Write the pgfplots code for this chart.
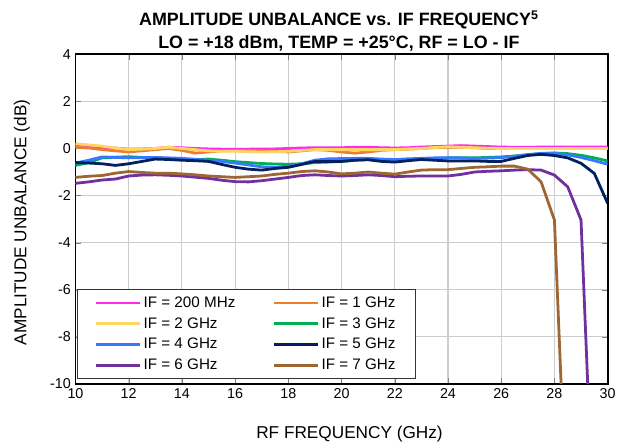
\documentclass[border=0pt]{standalone}
\usepackage{fontspec}
\setmainfont{Liberation Sans}
\usepackage{pgfplots}
\pgfplotsset{compat=1.18}

\definecolor{cMag}{RGB}{255,40,235}
\definecolor{cOrg}{RGB}{237,125,49}
\definecolor{cYel}{RGB}{255,214,100}
\definecolor{cGrn}{RGB}{0,176,80}
\definecolor{cBlu}{RGB}{55,120,255}
\definecolor{cNav}{RGB}{0,32,96}
\definecolor{cPur}{RGB}{112,48,160}
\definecolor{cBrn}{RGB}{158,102,50}

\begin{document}
\begin{tikzpicture}
\begin{axis}[at={(0pt,0pt)}, anchor=south west, scale only axis,
  width=402pt, height=249pt,
  xmin=10, xmax=30, ymin=-10, ymax=4,
  xtick={10,12,...,30}, ytick={-10,-8,...,4},
  /pgf/number format/assume math mode=true,
  ticklabel style={font=\fontsize{10.8}{13}\selectfont},
  grid=major,
  grid style={draw=gray!40, line width=0.9pt},
  axis line style={black, line width=1.3pt},
  xlabel={RF FREQUENCY (GHz)},
  ylabel={AMPLITUDE UNBALANCE (dB)},
  label style={font=\fontsize{13}{15}\selectfont},
  xlabel style={at={(axis description cs:0.515,-0.1506)}, anchor=center},
  ylabel style={at={(axis description cs:-0.1007,0.49)}, anchor=center},
  title={\textbf{AMPLITUDE UNBALANCE vs. IF FREQUENCY\textsuperscript{5}}\\\textbf{LO = +18 dBm, TEMP = +25°C, RF = LO - IF}},
  title style={at={(axis description cs:0.495,1)}, anchor=center, yshift=11.6pt,
    align=center, font=\fontsize{13.5}{17.25}\selectfont},
  legend columns=2, legend cell align=left,
  legend image code/.code={\draw[#1] (0pt,0pt) -- (33pt,0pt);},
  legend style={at={(axis description cs:0.0024,0.014)}, anchor=south west,
    draw=black!80, line width=0.8pt, fill=white,
    font=\fontsize{11.5}{13}\selectfont, inner xsep=13pt, inner ysep=3.5pt,
    row sep=2.1pt,
    /tikz/every even column/.append style={column sep=26pt}},
  every axis plot/.append style={line width=2.1pt, line join=round},
]
\addplot[cMag] coordinates {
(10,0.10)(10.5,0.08)(11,0.05)(11.5,0.02)(12,-0.03)(12.5,-0.02)(13,0.00)(13.5,0.05)
(14,0.03)(14.5,0.00)(15,-0.02)(15.5,-0.03)(16,-0.03)(16.5,-0.03)(17,-0.02)(17.5,-0.02)
(18,0.00)(18.5,0.02)(19,0.03)(19.5,0.03)(20,0.03)(20.5,0.05)(21,0.05)(21.5,0.03)
(22,0.02)(22.5,0.03)(23,0.06)(23.5,0.08)(24,0.10)(24.5,0.12)(25,0.10)(25.5,0.08)
(26,0.06)(26.5,0.05)(27,0.05)(27.5,0.06)(28,0.06)(28.5,0.06)(29,0.06)(29.5,0.06)(30,0.06)};
\addlegendentry{IF = 200 MHz}
\addplot[cOrg] coordinates {
(10,0.05)(10.5,0.02)(11,-0.05)(11.5,-0.10)(12,-0.15)(12.5,-0.10)(13,-0.05)(13.5,0.00)
(14,-0.08)(14.5,-0.20)(15,-0.15)(15.5,-0.10)(16,-0.10)(16.5,-0.08)(17,-0.10)(17.5,-0.12)
(18,-0.15)(18.5,-0.10)(19,-0.05)(19.5,-0.08)(20,-0.15)(20.5,-0.20)(21,-0.15)(21.5,-0.08)
(22,-0.05)(22.5,-0.03)(23,0.00)(23.5,0.03)(24,0.05)(24.5,0.05)(25,0.03)(25.5,0.00)
(26,0.00)(26.5,0.00)(27,0.00)(27.5,0.00)(28,0.00)(28.5,0.00)(29,0.00)(29.5,0.00)(30,0.00)};
\addlegendentry{IF = 1 GHz}
\addplot[cYel] coordinates {
(10,0.20)(10.5,0.15)(11,0.10)(11.5,0.02)(12,-0.05)(12.5,-0.03)(13,0.00)(13.5,0.05)
(14,0.00)(14.5,-0.05)(15,-0.10)(15.5,-0.12)(16,-0.12)(16.5,-0.14)(17,-0.15)(17.5,-0.14)
(18,-0.12)(18.5,-0.08)(19,-0.05)(19.5,-0.05)(20,-0.05)(20.5,-0.05)(21,-0.05)(21.5,-0.05)
(22,-0.05)(22.5,-0.02)(23,0.00)(23.5,0.04)(24,0.07)(24.5,0.05)(25,0.03)(25.5,0.01)
(26,0.00)(26.5,0.00)(27,0.00)(27.5,0.00)(28,0.00)(28.5,0.00)(29,0.00)(29.5,0.00)(30,0.00)};
\addlegendentry{IF = 2 GHz}
\addplot[cGrn] coordinates {
(10,-0.72)(10.5,-0.60)(11,-0.40)(11.5,-0.37)(12,-0.35)(12.5,-0.38)(13,-0.42)(13.5,-0.44)
(14,-0.46)(14.5,-0.48)(15,-0.45)(15.5,-0.50)(16,-0.56)(16.5,-0.60)(17,-0.64)(17.5,-0.66)
(18,-0.67)(18.5,-0.65)(19,-0.60)(19.5,-0.58)(20,-0.55)(20.5,-0.50)(21,-0.47)(21.5,-0.47)
(22,-0.48)(22.5,-0.46)(23,-0.44)(23.5,-0.42)(24,-0.40)(24.5,-0.40)(25,-0.40)(25.5,-0.38)
(26,-0.36)(26.5,-0.32)(27,-0.27)(27.5,-0.22)(28,-0.19)(28.5,-0.22)(29,-0.29)(29.5,-0.40)(30,-0.53)};
\addlegendentry{IF = 3 GHz}
\addplot[cBlu] coordinates {
(10,-0.62)(10.5,-0.50)(11,-0.36)(11.5,-0.38)(12,-0.40)(12.5,-0.39)(13,-0.38)(13.5,-0.40)
(14,-0.42)(14.5,-0.46)(15,-0.50)(15.5,-0.55)(16,-0.62)(16.5,-0.70)(17,-0.78)(17.5,-0.80)
(18,-0.75)(18.5,-0.65)(19,-0.50)(19.5,-0.44)(20,-0.43)(20.5,-0.42)(21,-0.42)(21.5,-0.45)
(22,-0.47)(22.5,-0.44)(23,-0.42)(23.5,-0.40)(24,-0.39)(24.5,-0.40)(25,-0.42)(25.5,-0.41)
(26,-0.39)(26.5,-0.33)(27,-0.26)(27.5,-0.21)(28,-0.20)(28.5,-0.27)(29,-0.38)(29.5,-0.52)(30,-0.67)};
\addlegendentry{IF = 4 GHz}
\addplot[cNav] coordinates {
(10,-0.60)(10.5,-0.62)(11,-0.65)(11.5,-0.72)(12,-0.65)(12.5,-0.55)(13,-0.45)(13.5,-0.47)
(14,-0.50)(14.5,-0.52)(15,-0.55)(15.5,-0.68)(16,-0.80)(16.5,-0.88)(17,-0.92)(17.5,-0.85)
(18,-0.80)(18.5,-0.68)(19,-0.55)(19.5,-0.55)(20,-0.55)(20.5,-0.50)(21,-0.48)(21.5,-0.55)
(22,-0.58)(22.5,-0.52)(23,-0.47)(23.5,-0.50)(24,-0.53)(24.5,-0.53)(25,-0.53)(25.5,-0.55)
(26,-0.55)(26.5,-0.42)(27,-0.30)(27.5,-0.25)(28,-0.30)(28.5,-0.40)(29,-0.63)(29.5,-1.06)(30,-2.33)};
\addlegendentry{IF = 5 GHz}
\addplot[cPur] coordinates {
(10,-1.48)(10.5,-1.42)(11,-1.34)(11.5,-1.30)(12,-1.17)(12.5,-1.13)(13,-1.12)(13.5,-1.14)
(14,-1.17)(14.5,-1.22)(15,-1.27)(15.5,-1.35)(16,-1.41)(16.5,-1.42)(17,-1.37)(17.5,-1.30)
(18,-1.23)(18.5,-1.15)(19,-1.12)(19.5,-1.15)(20,-1.17)(20.5,-1.15)(21,-1.12)(21.5,-1.15)
(22,-1.20)(22.5,-1.18)(23,-1.17)(23.5,-1.17)(24,-1.17)(24.5,-1.10)(25,-1.00)(25.5,-0.97)
(26,-0.95)(26.5,-0.92)(27,-0.90)(27.5,-0.92)(28,-1.13)(28.5,-1.63)(29,-3.04)(29.5,-16.9)};
\addlegendentry{IF = 6 GHz}
\addplot[cBrn] coordinates {
(10,-1.23)(10.5,-1.18)(11,-1.15)(11.5,-1.05)(12,-0.98)(12.5,-1.02)(13,-1.05)(13.5,-1.05)
(14,-1.08)(14.5,-1.12)(15,-1.17)(15.5,-1.20)(16,-1.23)(16.5,-1.20)(17,-1.17)(17.5,-1.10)
(18,-1.05)(18.5,-0.98)(19,-0.95)(19.5,-1.00)(20,-1.08)(20.5,-1.05)(21,-1.00)(21.5,-1.05)
(22,-1.09)(22.5,-1.00)(23,-0.92)(23.5,-0.90)(24,-0.90)(24.5,-0.85)(25,-0.80)(25.5,-0.78)
(26,-0.75)(26.5,-0.75)(27,-0.88)(27.5,-1.42)(28,-3.04)(28.5,-16.9)};
\addlegendentry{IF = 7 GHz}
\end{axis}
\path (-57pt,-46.7pt) rectangle (408pt,290pt);
\end{tikzpicture}
\end{document}
